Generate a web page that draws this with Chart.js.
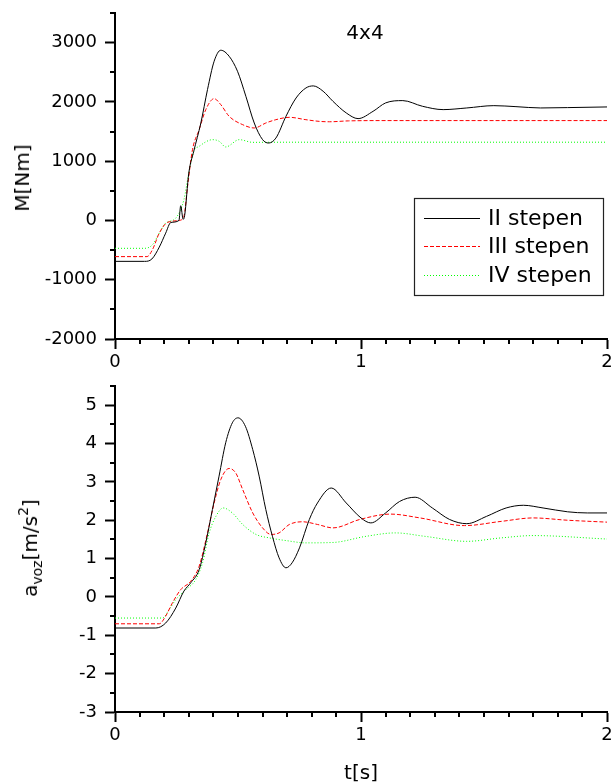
<!DOCTYPE html>
<html>
<head>
<meta charset="utf-8">
<script src="https://cdn.jsdelivr.net/npm/chart.js@4.4.0/dist/chart.umd.min.js"></script>
<style>
    body { margin: 0; background: #fff; }
    #wrap { position: relative; width: 614px; height: 784px; font-family: 'DejaVu Sans', sans-serif; color: #000; }
    .box { position: absolute; left: 0; width: 614px; }
    .lbl { position: absolute; white-space: nowrap; font-size: 20px; transform: translate(-50%, -50%); }
    .rot { transform: translate(-50%, -50%) rotate(-90deg); }
    .lbl sub { font-size: 14px; vertical-align: -5px; }
    .lbl sup { font-size: 14px; vertical-align: 9px; }
</style>
</head>
<body>
<div id="wrap">
    <div class="box" style="top:0;height:370px"><canvas id="torqueChart" width="614" height="370"></canvas></div>
    <div class="box" style="top:370px;height:414px"><canvas id="accelChart" width="614" height="414"></canvas></div>
    <div class="lbl" style="left:365px;top:32px;font-size:20px">4x4</div>
    <div class="lbl rot" style="left:22px;top:178px">M[Nm]</div>
    <div class="lbl rot" style="left:30px;top:548px">a<sub>voz</sub>[m/s<sup>2</sup>]</div>
    <div class="lbl" style="left:361px;top:772px">t[s]</div>
</div>
<script>
// tick labels
const xMajor = [0, 1, 2];
const torqueMajor = [-2000, -1000, 0, 1000, 2000, 3000];
const accelMajor = [-3, -2, -1, 0, 1, 2, 3, 4, 5];
const seriesNames = ['II stepen', 'III stepen', 'IV stepen'];

// moment M[Nm]
const tM2 = [0, 0.12, 0.15, 0.18, 0.206, 0.227, 0.26, 0.267, 0.277, 0.283, 0.30, 0.32, 0.349, 0.376, 0.403, 0.43, 0.464, 0.498, 0.532, 0.566, 0.60, 0.624, 0.654, 0.695, 0.736, 0.776, 0.806, 0.846, 0.886, 0.94, 0.988, 1.049, 1.10, 1.17, 1.25, 1.334, 1.43, 1.54, 1.63, 1.73, 1.84, 2.0];
const M2 = [-690, -690, -650, -450, -214, -34, 0, 248, 20, 80, 800, 1165, 1644, 2207, 2686, 2872, 2770, 2517, 2095, 1644, 1363, 1306, 1390, 1757, 2066, 2235, 2270, 2180, 2010, 1814, 1718, 1841, 1983, 2022, 1926, 1870, 1898, 1937, 1920, 1898, 1904, 1915];
const tM3 = [0, 0.13, 0.152, 0.18, 0.213, 0.26, 0.28, 0.295, 0.315, 0.342, 0.369, 0.403, 0.43, 0.464, 0.519, 0.566, 0.613, 0.654, 0.709, 0.776, 0.83, 0.872, 0.95, 1.1, 1.5, 2.0];
const M3 = [-610, -610, -495, -214, -34, 0, 68, 574, 1194, 1531, 1869, 2055, 1954, 1757, 1616, 1560, 1644, 1700, 1740, 1700, 1672, 1665, 1680, 1685, 1685, 1685];
const tM4 = [0, 0.12, 0.152, 0.18, 0.206, 0.247, 0.28, 0.30, 0.32, 0.342, 0.397, 0.424, 0.45, 0.505, 0.56, 0.7, 1.0, 2.0];
const M4 = [-470, -470, -411, -214, -45, 40, 349, 800, 1165, 1250, 1363, 1334, 1240, 1363, 1318, 1320, 1320, 1320];

// acceleration a_voz[m/s2]
const tA2 = [0, 0.166, 0.206, 0.247, 0.28, 0.308, 0.342, 0.369, 0.396, 0.423, 0.45, 0.477, 0.50, 0.53, 0.56, 0.586, 0.613, 0.64, 0.667, 0.695, 0.72, 0.75, 0.79, 0.823, 0.879, 0.94, 1.0, 1.04, 1.10, 1.157, 1.22, 1.29, 1.36, 1.43, 1.51, 1.59, 1.66, 1.74, 1.84, 1.92, 2.0];
const A2 = [-0.81, -0.81, -0.68, -0.29, 0.15, 0.37, 0.71, 1.41, 2.28, 3.15, 4.02, 4.54, 4.67, 4.45, 3.84, 3.15, 2.28, 1.58, 1.02, 0.76, 0.89, 1.28, 2.02, 2.45, 2.84, 2.45, 2.06, 1.93, 2.19, 2.49, 2.6, 2.32, 2.02, 1.91, 2.10, 2.32, 2.39, 2.32, 2.22, 2.19, 2.19];
const tA3 = [0, 0.18, 0.206, 0.233, 0.267, 0.308, 0.342, 0.376, 0.403, 0.43, 0.464, 0.491, 0.519, 0.56, 0.60, 0.634, 0.667, 0.709, 0.763, 0.823, 0.886, 0.995, 1.12, 1.24, 1.42, 1.57, 1.70, 1.84, 2.0];
const A3 = [-0.70, -0.70, -0.50, -0.16, 0.19, 0.41, 0.80, 1.67, 2.45, 3.06, 3.35, 3.23, 2.80, 2.19, 1.80, 1.63, 1.67, 1.89, 1.96, 1.89, 1.80, 2.02, 2.16, 2.06, 1.86, 1.97, 2.06, 2.0, 1.95];
const tA4 = [0, 0.193, 0.22, 0.247, 0.288, 0.328, 0.356, 0.383, 0.41, 0.44, 0.477, 0.519, 0.573, 0.627, 0.695, 0.776, 0.886, 1.02, 1.14, 1.26, 1.43, 1.57, 1.70, 2.0];
const A4 = [-0.55, -0.55, -0.33, -0.07, 0.19, 0.45, 0.89, 1.67, 2.10, 2.32, 2.19, 1.89, 1.63, 1.54, 1.47, 1.41, 1.42, 1.58, 1.67, 1.58, 1.45, 1.54, 1.60, 1.51];

const lineStyles = [
    { color: '#000000', dash: [] },
    { color: '#ff0000', dash: [4, 2] },
    { color: '#00ff00', dash: [1, 2] }
];

const FONT = 'DejaVu Sans';

function isIn(list, v) {
    return list.some(m => Math.abs(m - v) < 1e-6);
}

function toPoints(t, v) {
    return t.map((x, i) => ({ x: x, y: v[i] }));
}

function makeDatasets(series) {
    return series.map((s, i) => ({
        label: seriesNames[i],
        data: toPoints(s[0], s[1]),
        borderColor: lineStyles[i].color,
        borderDash: lineStyles[i].dash,
        borderWidth: 1,
        pointRadius: 0,
        fill: false,
        cubicInterpolationMode: 'monotone'
    }));
}

// short ticks between the labelled ones
const minorTicks = {
    id: 'minorTicks',
    afterDraw(chart, args, opts) {
        const { ctx, chartArea, scales } = chart;
        ctx.save();
        ctx.strokeStyle = '#000';
        ctx.lineWidth = 2;
        scales.x.ticks.forEach(t => {
            if (isIn(xMajor, t.value)) return;
            const px = Math.round(scales.x.getPixelForValue(t.value));
            ctx.beginPath();
            ctx.moveTo(px, chartArea.bottom);
            ctx.lineTo(px, chartArea.bottom + 5);
            ctx.stroke();
        });
        scales.y.ticks.forEach(t => {
            if (isIn(opts.yMajor, t.value)) return;
            const py = Math.round(scales.y.getPixelForValue(t.value));
            ctx.beginPath();
            ctx.moveTo(chartArea.left - 5, py);
            ctx.lineTo(chartArea.left, py);
            ctx.stroke();
        });
        ctx.restore();
    }
};

// framed legend inside the upper plot
const boxLegend = {
    id: 'boxLegend',
    afterDraw(chart, args, opts) {
        if (!opts.show) return;
        const ctx = chart.ctx;
        ctx.save();
        ctx.strokeStyle = '#222';
        ctx.lineWidth = 1.2;
        ctx.strokeRect(414.5, 198.5, 189, 97);
        ctx.font = '22px "' + FONT + '"';
        ctx.textBaseline = 'middle';
        ctx.fillStyle = '#000';
        const rows = [218, 246, 275];
        chart.data.datasets.forEach((ds, i) => {
            ctx.strokeStyle = ds.borderColor;
            ctx.lineWidth = 1;
            ctx.setLineDash(ds.borderDash);
            ctx.beginPath();
            ctx.moveTo(424, rows[i] + 0.5);
            ctx.lineTo(480, rows[i] + 0.5);
            ctx.stroke();
            ctx.setLineDash([]);
            ctx.fillText(ds.label, 488, rows[i] + 1);
        });
        ctx.restore();
    }
};

function buildChart(canvasId, series, cfg) {
    const ctx = document.getElementById(canvasId);
    return new Chart(ctx, {
        type: 'line',
        data: { datasets: makeDatasets(series) },
        options: {
            responsive: false,
            animation: false,
            events: [],
            layout: { padding: { top: cfg.padTop, right: 7, left: 0, bottom: 0 } },
            plugins: {
                legend: { display: false },
                tooltip: { enabled: false },
                minorTicks: { yMajor: cfg.yMajor },
                boxLegend: { show: cfg.legend }
            },
            scales: {
                x: {
                    type: 'linear',
                    min: 0,
                    max: 2,
                    afterFit: s => {
                        s.height = cfg.xHeight;
                        s.paddingLeft = 0;
                        s.paddingRight = 0;
                    },
                    border: { display: true, color: '#000', width: 2 },
                    grid: {
                        drawOnChartArea: false,
                        drawTicks: true,
                        tickLength: 10,
                        tickWidth: 2,
                        tickColor: c => isIn(xMajor, c.tick.value) ? '#000' : 'rgba(0,0,0,0)'
                    },
                    ticks: {
                        stepSize: 0.1,
                        autoSkip: false,
                        maxRotation: 0,
                        padding: 3,
                        color: '#000',
                        font: { family: FONT, size: 18 },
                        callback: v => isIn(xMajor, v) ? String(Math.round(v)) : ''
                    }
                },
                y: {
                    min: cfg.yMin,
                    max: cfg.yMax,
                    afterFit: s => {
                        s.width = 115;
                        s.paddingTop = 0;
                        s.paddingBottom = 0;
                    },
                    border: { display: true, color: '#000', width: 2 },
                    grid: {
                        drawOnChartArea: false,
                        drawTicks: true,
                        tickLength: 10,
                        tickWidth: 2,
                        tickColor: c => isIn(cfg.yMajor, c.tick.value) ? '#000' : 'rgba(0,0,0,0)'
                    },
                    ticks: {
                        stepSize: cfg.yStep,
                        autoSkip: false,
                        padding: 8,
                        color: '#000',
                        font: { family: FONT, size: 18 },
                        callback: v => isIn(cfg.yMajor, v) ? String(Math.round(v)) : ''
                    }
                }
            }
        },
        plugins: [minorTicks, boxLegend]
    });
}

buildChart('torqueChart', [[tM2, M2], [tM3, M3], [tM4, M4]], {
    yMin: -2000, yMax: 3500, yStep: 500, yMajor: torqueMajor,
    padTop: 13, xHeight: 31, legend: true
});

buildChart('accelChart', [[tA2, A2], [tA3, A3], [tA4, A4]], {
    yMin: -3, yMax: 5.5, yStep: 0.5, yMajor: accelMajor,
    padTop: 16, xHeight: 72, legend: false
});
</script>
</body>
</html>
